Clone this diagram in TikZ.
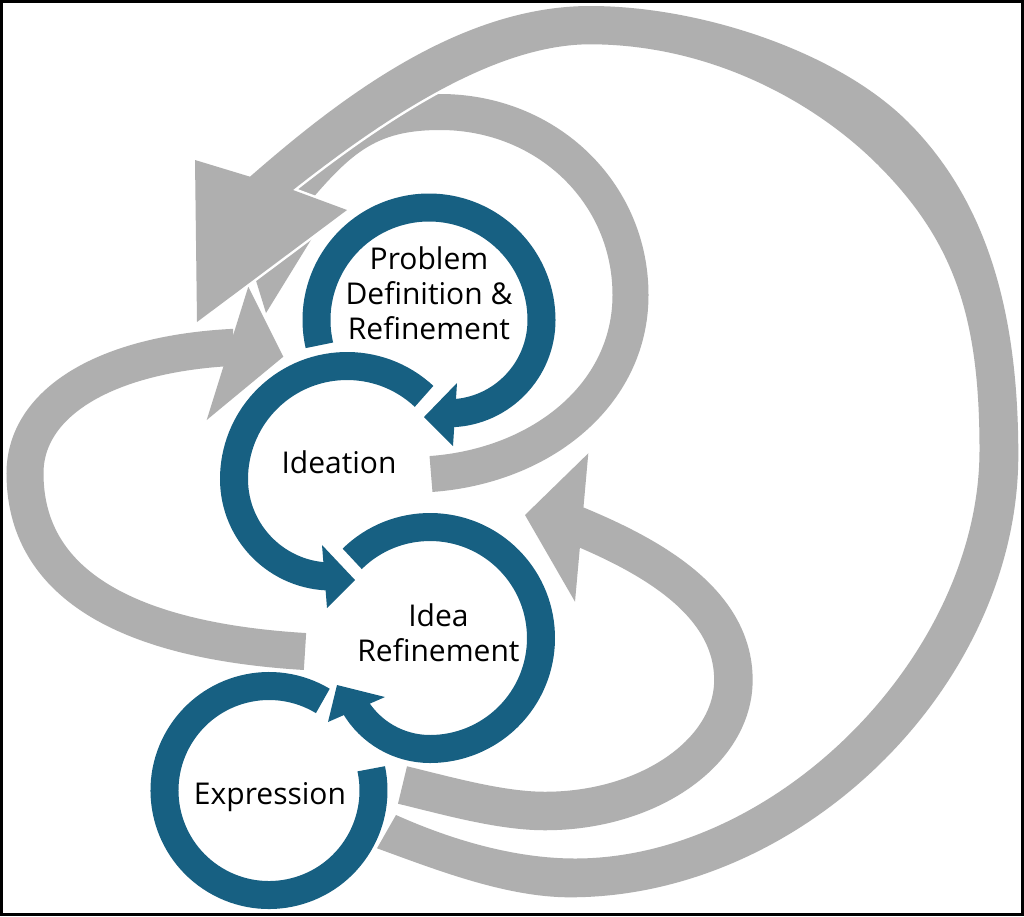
\documentclass[tikz,border=0pt]{standalone}
\usepackage{fontspec}
\setmainfont{Open Sans}
\definecolor{ringblue}{RGB}{23,96,130}
\definecolor{arrowgray}{RGB}{175,175,175}
\begin{document}
\begin{tikzpicture}[x=1pt,y=-1pt]
    \tikzstyle{ring}=[draw=ringblue,line width=28]
    \tikzstyle{ringhead}=[fill=ringblue]
    \tikzstyle{band}=[draw=arrowgray]
    \tikzstyle{bandedge}=[draw=white]
    \tikzstyle{headedge}=[draw=white,line width=5,line join=round]
    \tikzstyle{stagetext}=[align=center,font=\fontsize{30}{35}\selectfont]

    \def\bandB{(431,474) .. controls (541,466) and (630.5,395) .. (630.5,295) .. controls (630.5,192.5) and (546.7,112) .. (440,112) .. controls (360,112) and (332.6,145.7) .. (275,215)}
    \def\headB{(245,245) -- (266,313) -- (322,222) -- cycle}
    \def\bandD{(402.5,785) .. controls (446,795.4) and (500,811) .. (545,811) .. controls (648.6,811) and (733.4,752) .. (733.4,680) .. controls (733.4,600) and (646.5,554) .. (572.4,523.7)}
    \def\headD{(588.3,453.3) -- (525,515) -- (575,601.7) -- cycle}
    \def\bandC{(305,651.5) .. controls (145,641.9) and (25,593.3) .. (25,473.3) .. controls (25,403.3) and (104,353.8) .. (234,347.3)}
    \def\headC{(248.3,286.7) -- (283.3,356.7) -- (206.7,420) -- cycle}

    \useasboundingbox (0,0) rectangle (1024,916);

    \draw[ring] (429,320) ++(167:112.5) arc[start angle=167, end angle=360, radius=112.5] arc[start angle=0, end angle=88, radius=93.3];
    \fill[ringhead] (453,446) -- (424,417) -- (457,383) -- cycle;

    \draw[ring] (347,479) ++(313:113) arc[start angle=313, end angle=180, radius=113] arc[start angle=180, end angle=90, radius=97.5];
    \fill[ringhead] (322,545) -- (355,580) -- (327,608) -- cycle;

    \draw[ring] (430,638) ++(225.5:111) arc[start angle=225.5, end angle=450, radius=111] arc[start angle=90, end angle=150, radius=87.4];
    \fill[ringhead] (385,697) -- (337,685) -- (328,722) -- cycle;

    \draw[ring] (269,790.5) ++(301:104.5) arc[start angle=301, end angle=-12, radius=104.5];

    \draw[bandedge,line width=41] \bandB;
    \draw[headedge] \headB;
    \draw[band,line width=36] \bandB;
    \fill[arrowgray] \headB;

    \draw[bandedge,line width=43.5] \bandD;
    \draw[headedge] \headD;
    \draw[band,line width=38.5] \bandD;
    \fill[arrowgray] \headD;

    \draw[bandedge,line width=42] \bandC;
    \draw[headedge] \headC;
    \draw[band,line width=37] \bandC;
    \fill[arrowgray] \headC;

    \fill[arrowgray,preaction={draw=white,line width=5,line join=round}] (377,848.3) .. controls (433.4,868.7) and (505,897.3) .. (570,897.3)
        .. controls (803.1,897.3) and (1018.3,685) .. (1018.3,455)
        .. controls (1018.3,325) and (992.8,206.8) .. (908,122)
        .. controls (837.3,51.3) and (700,6) .. (590,6)
        .. controls (460,6) and (340.4,97.7) .. (250,176.7)
        -- (195,160) -- (197,322) -- (347,210) -- (293,190)
        .. controls (395,109.5) and (500,44.3) .. (590,44.3)
        .. controls (710,44.3) and (814.4,101.4) .. (878,165)
        .. controls (955.8,242.8) and (979.5,320) .. (979.5,450)
        .. controls (979.5,654.25) and (777.25,858.5) .. (575,858.5)
        .. controls (515,858.5) and (451.8,840) .. (396,815) -- cycle;

    \node[stagetext] at (429,293.5) (problem) {Problem\\Definition \&\\Refinement};
    \node[stagetext] at (339,462) (ideation) {Ideation};
    \node[stagetext] at (438.5,632.7) (refinement) {Idea\\Refinement};
    \node[stagetext] at (270,797) (expression) {Expression};

    \draw[line width=3] (1.5,1.5) rectangle (1022.5,914.5);
\end{tikzpicture}
\end{document}
